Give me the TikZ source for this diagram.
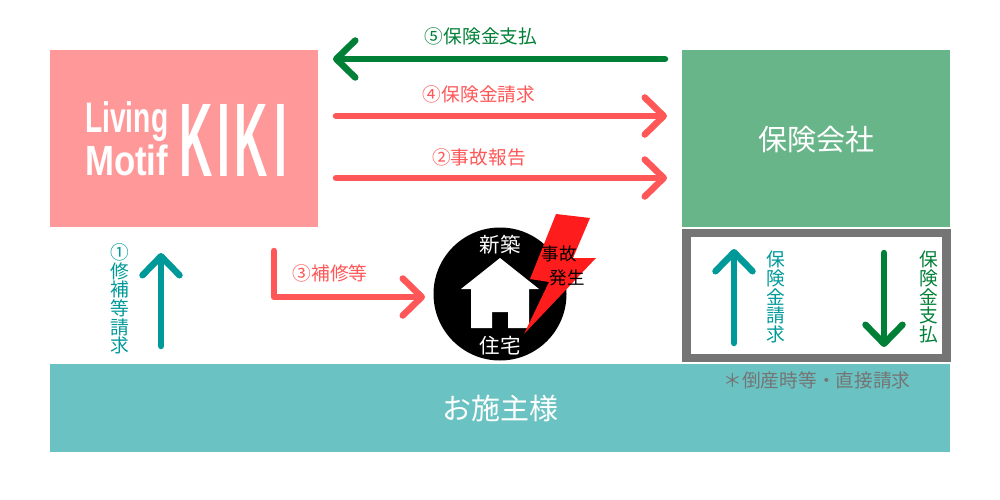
\documentclass[tikz,border=0pt]{standalone}
\usepackage{fontspec}
\usepackage{graphicx}
\setmainfont{Noto Sans CJK JP}
\newfontfamily\logofont{Liberation Sans}
\usetikzlibrary{arrows.meta}
\definecolor{cPink}{HTML}{FF9999}
\definecolor{cInsurer}{HTML}{69B58A}
\definecolor{cOwner}{HTML}{6BC2C2}
\definecolor{cGray}{HTML}{757575}
\definecolor{cTeal}{HTML}{009999}
\definecolor{cGreen}{HTML}{008037}
\definecolor{cRed}{HTML}{FF5757}
\definecolor{cBolt}{HTML}{FF1C1C}
\newcommand{\fsz}[1]{\fontsize{#1}{#1}\selectfont\lineskiplimit=-20pt\relax}
\tikzset{
  block/.style={inner sep=0pt,outer sep=0pt,anchor=north west},
  arrowline/.style={line width=6.5pt,line cap=round,line join=round,-{Straight Barb[round,length=19pt,width=37pt]}},
  lab/.style={inner sep=0pt,font=\fsz{18.7},align=center},
  big/.style={inner sep=0pt,font=\fsz{29},text=white},
  logo/.style={inner sep=0pt,text=white,anchor=north west,font=\logofont},
}
\begin{document}
\begin{tikzpicture}[x=1pt,y=-1pt]
\useasboundingbox[fill=white] (0,0) rectangle (1000,500);
% blocks
\fill[cPink] (50,50) rectangle (318,227);
\fill[cInsurer] (682,50) rectangle (950,227);
\fill[cOwner] (50,364) rectangle (950,452);
\fill[cGray] (682,229) rectangle (951,362);
\fill[white] (691,237) rectangle (942,354);
\node[big] (insurer) at (816,140) {保険会社};
\node[big] (owner) at (500,408) {お施主様};
% logo
\node[logo] (living) at (85,101) {\resizebox*{83pt}{40pt}{\bfseries Living}};
\node[logo] (motif) at (85,145) {\resizebox*{83pt}{31pt}{\bfseries Motif}};
\node[logo,anchor=base west] (kiki) at (179,176) {\scalebox{0.44}[1]{\fontsize{104.7}{104.7}\selectfont\bfseries K\kern10.5pt I\kern10pt K\kern15pt I}};
% horizontal connectors
\coordinate (a5s) at (665,59); \coordinate (a5e) at (333,59);
\coordinate (a4s) at (336,116); \coordinate (a4e) at (667,116);
\coordinate (a2s) at (336,178); \coordinate (a2e) at (667,178);
\draw[arrowline,cGreen] (a5s) -- (a5e);
\draw[arrowline,cRed] (a4s) -- (a4e);
\draw[arrowline,cRed] (a2s) -- (a2e);
\node[lab,text=cGreen] (l5) at (481,36) {⑤保険金支払};
\node[lab,text=cRed] (l4) at (479,94) {④保険金請求};
\node[lab,text=cRed] (l2) at (479,157) {②事故報告};
% claim arrows
\coordinate (a1s) at (161,346); \coordinate (a1e) at (161,253);
\draw[arrowline,cTeal] (a1s) -- (a1e);
\node[lab,text=cTeal] (l1) at (119.5,299) {①\\修\\補\\等\\請\\求};
\coordinate (a3s) at (274,251); \coordinate (a3m) at (274,297); \coordinate (a3e) at (425,297);
\draw[arrowline,cRed] (a3s) -- (a3m) -- (a3e);
\node[lab,text=cRed] (l3) at (330,273) {③補修等};
% house
\fill[black] (500,294) circle (66.5);
\fill[white] (500,258) -- (539,289) -- (529,289) -- (529,328) -- (508,328) -- (508,312) -- (492,312) -- (492,328) -- (471,328) -- (471,289) -- (461,289) -- cycle;
\fill[cBolt] (556,214) -- (590,218) -- (573,258) -- (596,258) -- (524,334) -- (549,282) -- (530,279) -- cycle;
\node[lab,text=white,font=\fsz{20.5}] (shin) at (500,245) {新築};
\node[lab,text=white,font=\fsz{20.5}] (jutaku) at (500,346) {住宅};
\node[lab,font=\fsz{17.5}] (jiko) at (559,254) {事故};
\node[lab,font=\fsz{17.5}] (hassei) at (567,278) {発生};
% frame arrows
\coordinate (a6s) at (734,343); \coordinate (a6e) at (734,249);
\draw[arrowline,cTeal] (a6s) -- (a6e);
\node[lab,text=cTeal] (l6) at (776,297) {保\\険\\金\\請\\求};
\coordinate (a7s) at (884,253); \coordinate (a7e) at (884,347);
\draw[arrowline,cGreen] (a7s) -- (a7e);
\node[lab,text=cGreen] (l7) at (929,297) {保\\険\\金\\支\\払};
\node[lab,text=cGray] (note) at (817,380) {＊倒産時等・直接請求};
\end{tikzpicture}
\end{document}
